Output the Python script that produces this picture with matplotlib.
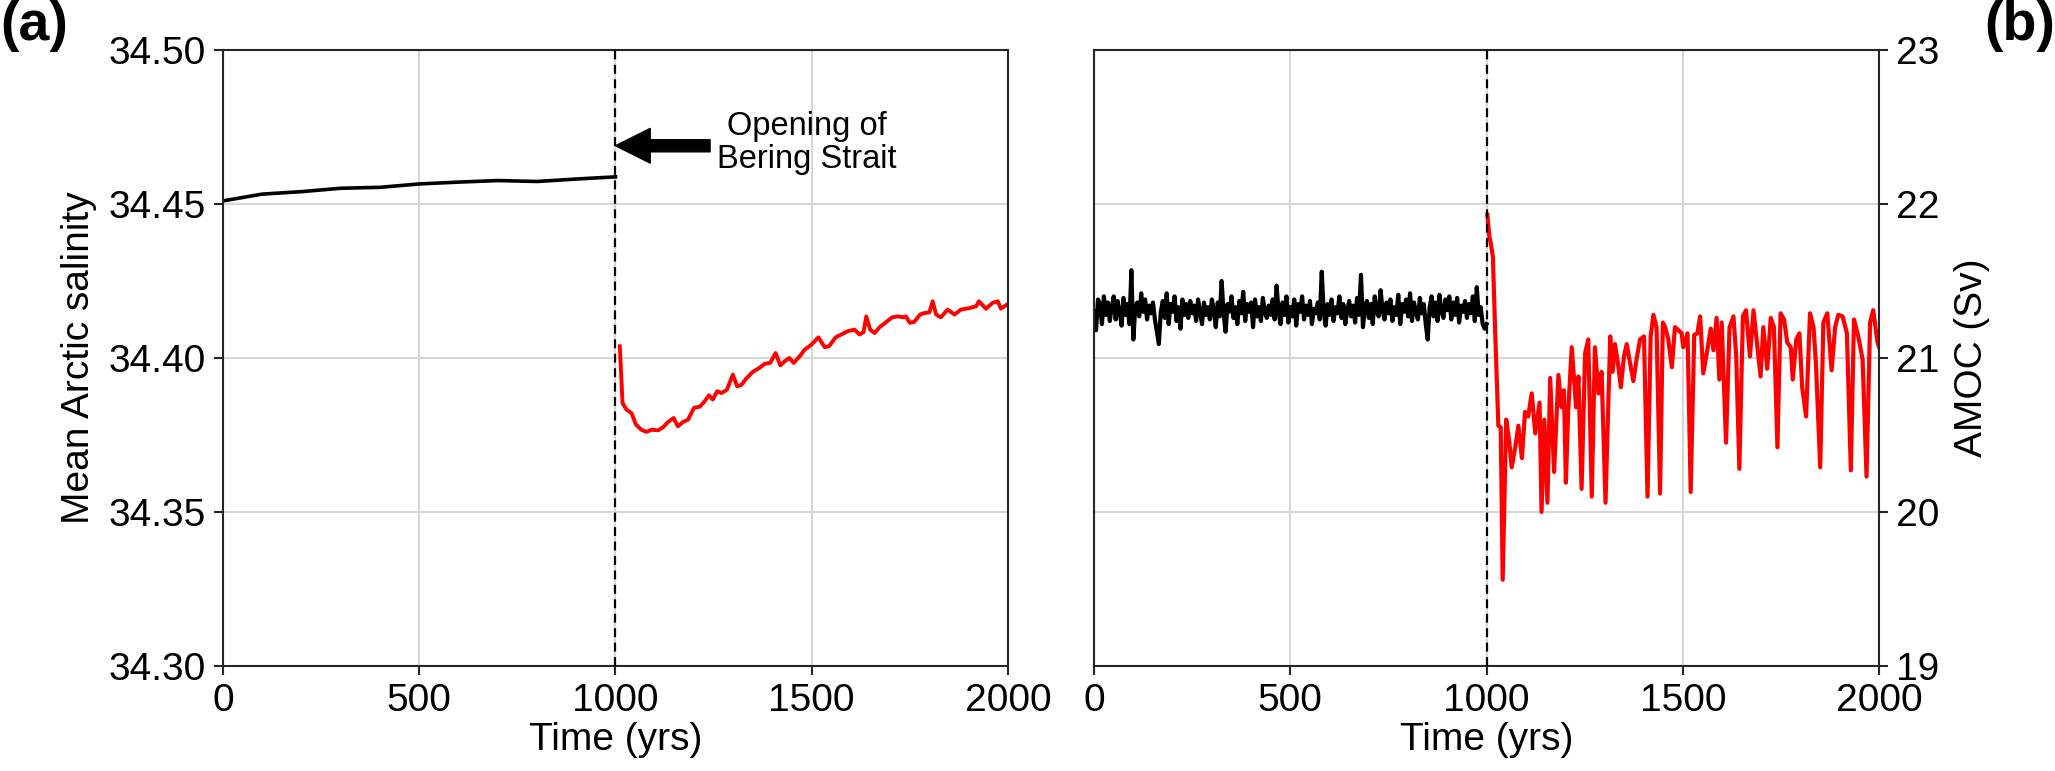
import numpy as np
import matplotlib.pyplot as plt
from matplotlib.ticker import FormatStrFormatter

plt.rcParams['font.family'] = ['Liberation Sans', 'DejaVu Sans']

# (a) Arctic salinity, closed Bering Strait (black) and open (red)
sal_closed_yr = [0, 100, 200, 300, 400, 500, 600, 700, 800, 900, 1000]
sal_closed = [34.4510, 34.4532, 34.4540, 34.4551, 34.4554, 34.4565,
              34.4571, 34.4576, 34.4573, 34.4581, 34.4588]

sal_open_yr = [1011, 1018, 1028, 1041, 1052, 1066, 1079, 1092, 1109, 1121,
               1134, 1148, 1159, 1172, 1185, 1200, 1215, 1227, 1238, 1248,
               1259, 1270, 1284, 1299, 1310, 1321, 1333, 1350, 1367, 1380,
               1394, 1408, 1420, 1431, 1443, 1454, 1469, 1482, 1499, 1517,
               1533, 1544, 1561, 1575, 1592, 1609, 1622, 1632, 1639, 1649,
               1660, 1673, 1690, 1705, 1720, 1733, 1740, 1750, 1761, 1776,
               1787, 1800, 1808, 1817, 1829, 1846, 1864, 1880, 1902, 1919,
               1926, 1944, 1961, 1974, 1982, 1997]
sal_open = [34.4038, 34.3854, 34.3832, 34.3821, 34.3784, 34.3767, 34.3760,
            34.3767, 34.3765, 34.3775, 34.3792, 34.3805, 34.3778, 34.3792,
            34.3800, 34.3838, 34.3842, 34.3859, 34.3879, 34.3865, 34.3892,
            34.3886, 34.3897, 34.3946, 34.3908, 34.3913, 34.3933, 34.3955,
            34.3968, 34.3981, 34.3984, 34.4016, 34.3976, 34.3989, 34.4000,
            34.3984, 34.4005, 34.4027, 34.4043, 34.4067, 34.4035, 34.4038,
            34.4067, 34.4076, 34.4087, 34.4092, 34.4076, 34.4084, 34.4135,
            34.4092, 34.4081, 34.4100, 34.4117, 34.4132, 34.4135, 34.4132,
            34.4135, 34.4114, 34.4117, 34.4141, 34.4146, 34.4148, 34.4184,
            34.4141, 34.4132, 34.4157, 34.4141, 34.4157, 34.4162, 34.4168,
            34.4184, 34.4160, 34.4179, 34.4184, 34.4160, 34.4173]

# (b) AMOC strength
amoc_closed_yr = list(range(0, 1001, 5))
amoc_closed = [
    21.30, 21.18, 21.38, 21.35, 21.22, 21.40, 21.28, 21.36, 21.24, 21.33,
    21.40, 21.25, 21.37, 21.30, 21.21, 21.39, 21.28, 21.35, 21.22, 21.57,
    21.12, 21.33, 21.36, 21.27, 21.42, 21.30, 21.38, 21.25, 21.34, 21.29,
    21.36, 21.25, 21.17, 21.09, 21.30, 21.37, 21.26, 21.42, 21.22, 21.35,
    21.30, 21.40, 21.24, 21.33, 21.19, 21.38, 21.28, 21.35, 21.26, 21.37,
    21.29, 21.34, 21.24, 21.38, 21.30, 21.22, 21.36, 21.28, 21.33, 21.25,
    21.38, 21.31, 21.20, 21.36, 21.27, 21.50, 21.29, 21.17, 21.35, 21.30,
    21.40, 21.26, 21.33, 21.22, 21.37, 21.29, 21.43, 21.24, 21.35, 21.30,
    21.36, 21.20, 21.38, 21.27, 21.33, 21.24, 21.39, 21.30, 21.26, 21.34,
    21.28, 21.38, 21.25, 21.47, 21.30, 21.22, 21.36, 21.28, 21.40, 21.23,
    21.33, 21.27, 21.38, 21.21, 21.35, 21.30, 21.40, 21.25, 21.34, 21.28,
    21.37, 21.22, 21.32, 21.29, 21.36, 21.25, 21.56, 21.30, 21.21, 21.35,
    21.28, 21.38, 21.24, 21.33, 21.29, 21.40, 21.26, 21.35, 21.22, 21.31,
    21.37, 21.27, 21.34, 21.23, 21.39, 21.28, 21.54, 21.20, 21.33, 21.37,
    21.26, 21.35, 21.22, 21.40, 21.30, 21.27, 21.44, 21.31, 21.25, 21.36,
    21.29, 21.38, 21.24, 21.33, 21.28, 21.41, 21.22, 21.35, 21.30, 21.38,
    21.27, 21.42, 21.24, 21.36, 21.30, 21.25, 21.39, 21.29, 21.35, 21.22,
    21.12, 21.33, 21.40, 21.27, 21.36, 21.24, 21.41, 21.30, 21.26, 21.38,
    21.31, 21.40, 21.25, 21.36, 21.28, 21.39, 21.23, 21.34, 21.30, 21.37,
    21.26, 21.35, 21.29, 21.40, 21.24, 21.46, 21.28, 21.33, 21.22, 21.19,
    21.22]

amoc_open_yr = [1002, 1007, 1011, 1016, 1022, 1030, 1036, 1041, 1050, 1058,
                1064, 1073, 1081, 1090, 1098, 1106, 1115, 1124, 1135, 1140,
                1147, 1155, 1162, 1172, 1183, 1191, 1197, 1202, 1208, 1217,
                1228, 1234, 1242, 1251, 1259, 1268, 1276, 1285, 1293, 1303,
                1315, 1321, 1327, 1336, 1342, 1350, 1357, 1366, 1374, 1382,
                1391, 1401, 1410, 1418, 1425, 1433, 1442, 1449, 1455, 1463,
                1472, 1480, 1489, 1497, 1501, 1512, 1520, 1529, 1537, 1544,
                1552, 1561, 1571, 1578, 1586, 1593, 1599, 1610, 1619, 1629,
                1636, 1644, 1653, 1661, 1671, 1680, 1690, 1698, 1705, 1715,
                1724, 1732, 1741, 1749, 1758, 1766, 1775, 1780, 1789, 1797,
                1804, 1814, 1824, 1833, 1839, 1850, 1858, 1868, 1879, 1888,
                1896, 1907, 1918, 1928, 1936, 1947, 1958, 1968, 1977, 1985,
                1996, 2000]
amoc_open = [21.93, 21.79, 21.74, 21.66, 21.16, 20.56, 20.55, 19.56, 20.60,
             20.45, 20.29, 20.42, 20.56, 20.35, 20.65, 20.62, 20.77, 20.51,
             20.71, 20.00, 20.60, 20.06, 20.87, 20.26, 20.89, 20.68, 20.79,
             20.19, 20.66, 21.07, 20.68, 20.88, 20.15, 21.03, 21.12, 20.10,
             21.07, 20.77, 20.91, 20.06, 21.14, 20.91, 21.09, 20.94, 20.81,
             21.01, 21.09, 20.96, 20.85, 20.99, 21.12, 21.14, 20.10, 21.14,
             21.28, 21.20, 20.12, 21.23, 21.20, 21.12, 20.94, 21.20, 21.18,
             21.16, 21.07, 21.16, 20.13, 21.15, 21.16, 21.27, 20.90, 21.03,
             21.19, 21.05, 21.26, 20.86, 21.23, 20.45, 21.20, 21.27, 21.01,
             20.28, 21.27, 21.31, 21.01, 21.31, 21.07, 20.88, 21.20, 20.93,
             21.26, 21.20, 20.42, 21.29, 21.25, 21.10, 21.07, 20.86, 21.12,
             21.16, 20.81, 20.62, 21.29, 21.20, 20.97, 20.29, 21.23, 21.29,
             20.92, 21.20, 21.28, 21.27, 21.16, 20.27, 21.25, 21.14, 20.99,
             20.23, 21.23, 21.31, 21.10, 21.07]

fig = plt.figure(figsize=(20.55, 7.71), dpi=100)
ax1 = fig.add_axes([0.1085, 0.1362, 0.382, 0.799])
ax2 = fig.add_axes([0.5324, 0.1362, 0.382, 0.799])

fs = 28
for ax in (ax1, ax2):
    ax.set_xlim(0, 2000)
    ax.set_xticks([0, 500, 1000, 1500, 2000])
    ax.grid(True, color='0.84', lw=1.5)
    ax.set_axisbelow(True)
    ax.axvline(1000, color='k', lw=1.6, ls=(0, (4, 2.5)), zorder=3)
    ax.tick_params(labelsize=fs, length=6.5, width=1.5, direction='out', pad=6,
                   color='0.15')
    for s in ax.spines.values():
        s.set_linewidth(1.5)
        s.set_color('0.15')
    ax.set_xlabel('Time (yrs)', fontsize=fs, labelpad=2)

ax1.plot(sal_closed_yr, sal_closed, color='k', lw=2.6)
ax1.plot(sal_open_yr, sal_open, color='#ff0000', lw=2.8)
ax1.set_ylim(34.30, 34.50)
ax1.set_yticks([34.30, 34.35, 34.40, 34.45, 34.50])
ax1.yaxis.set_major_formatter(FormatStrFormatter('%.2f'))
ax1.set_ylabel('Mean Arctic salinity', fontsize=fs, labelpad=8)

ax1.annotate('', xy=(1000, 34.4689), xytext=(1241, 34.4689),
             arrowprops=dict(arrowstyle='simple,head_width=1.0,head_length=1.0,tail_width=0.35',
                             color='k', mutation_scale=25, shrinkA=0, shrinkB=0))
ax1.text(1488, 34.4698, 'Opening of\nBering Strait', fontsize=23.5,
         ha='center', va='center', multialignment='center', linespacing=1.05)

ax2.plot(amoc_closed_yr, amoc_closed, color='k', lw=3.0)
ax2.plot(amoc_open_yr, amoc_open, color='#ff0000', lw=3.0)
ax2.set_ylim(19, 23)
ax2.set_yticks([19, 20, 21, 22, 23])
ax2.yaxis.tick_right()
ax2.yaxis.set_label_position('right')
ax2.set_ylabel('AMOC (Sv)', fontsize=fs, labelpad=10)

fig.text(0.0, 1.0, '(a)', fontsize=40, fontweight='bold', ha='left', va='top')
fig.text(1.0, 1.0, '(b)', fontsize=40, fontweight='bold', ha='right', va='top')

fig.savefig('out.png', dpi=100)
